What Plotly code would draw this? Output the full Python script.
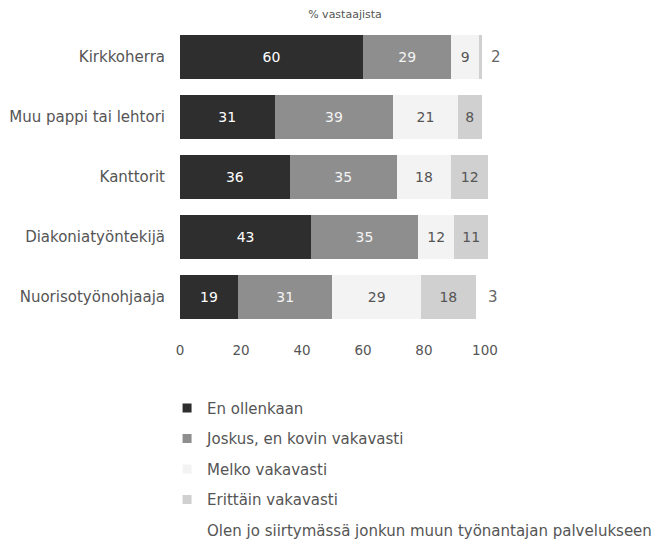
import plotly.graph_objects as go

categories = ["Kirkkoherra", "Muu pappi tai lehtori", "Kanttorit", "Diakoniatyöntekijä", "Nuorisotyönohjaaja"]
series_names = ["En ollenkaan", "Joskus, en kovin vakavasti", "Melko vakavasti",
                "Erittäin vakavasti", "Olen jo siirtymässä jonkun muun työnantajan palvelukseen"]
en_ollenkaan = [60, 31, 36, 43, 19]
joskus = [29, 39, 35, 35, 31]
melko = [9, 21, 18, 12, 29]
erittain = [1, 8, 12, 11, 18]
siirtymassa = [2, 1, 0, 0, 3]
tick_vals = [0, 20, 40, 60, 80, 100]

series_values = [en_ollenkaan, joskus, melko, erittain, siirtymassa]
colors = ["#2e2e2e", "#8e8e8e", "#f3f3f3", "#d0d0d0", "#ffffff"]
text_colors = ["#ffffff", "#f4f4f4", "#555555", "#555555", "#666666"]
positions = ["inside", "inside", "inside", "inside", "outside"]
FONT = "DejaVu Sans, Verdana, sans-serif"

fig = go.Figure()
for i, (name, vals) in enumerate(zip(series_names, series_values)):
    fig.add_trace(go.Bar(
        y=categories, x=vals, name=name, orientation="h",
        marker=dict(color=colors[i], line=dict(width=0)),
        text=[str(v) if v >= 2 else "" for v in vals],
        textposition=positions[i],
        insidetextanchor="middle",
        constraintext="none",
        textfont=dict(color=text_colors[i], size=14 if i < 4 else 15, family=FONT),
        cliponaxis=False,
        showlegend=False,
    ))
    # legend entry with a small square swatch
    fig.add_trace(go.Scatter(
        x=[None], y=[None], mode="markers", name=name,
        marker=dict(symbol="square", size=9, color=colors[i],
                    line=dict(width=0)),
        legendgroup=str(i), showlegend=True,
    ))

fig.update_layout(
    width=666, height=570,
    barmode="stack", bargap=0.27,
    plot_bgcolor="white", paper_bgcolor="white",
    margin=dict(l=172, r=186, t=19, b=251, autoexpand=False),
    font=dict(family=FONT, color="#555555", size=13),
    title=dict(text="% vastaajista", x=0.506, xanchor="center", y=1 - 6 / 570, yref="container",
               yanchor="middle", font=dict(size=11, color="#555555")),
    legend=dict(orientation="v", x=-0.042, xanchor="left", y=-0.216, yanchor="top",
                font=dict(size=15, color="#555555", family=FONT), tracegroupgap=8,
                traceorder="grouped", itemwidth=30),
)
fig.update_xaxes(range=[0, 101], tickvals=tick_vals, showgrid=False, zeroline=False,
                 showline=False, ticks="", ticklabelstandoff=13, automargin=False,
                 tickfont=dict(size=13.5, color="#555555"))
fig.update_yaxes(autorange="reversed", showgrid=False, ticks="", ticklabelstandoff=14,
                 automargin=False, tickfont=dict(size=15, color="#555555"))

fig.write_html("out.html")
